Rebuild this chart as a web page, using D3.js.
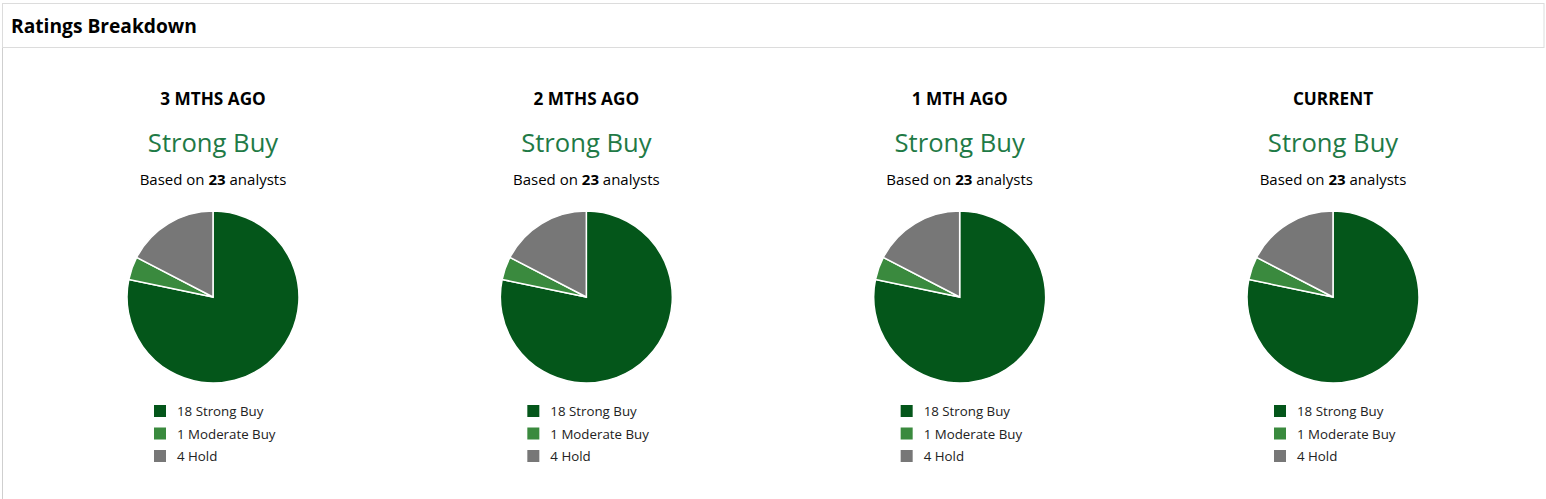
<!DOCTYPE html>
<html>
<head>
  <meta charset="utf-8">
  <title>Ratings Breakdown</title>
  <script src="https://d3js.org/d3.v7.min.js"></script>
<style type="text/css">
body {
  margin: 0;
  background: #fff;
  font-family: "Open Sans", "Noto Sans", sans-serif;
  color: #111;
}
.slice path {
  stroke: #fff;
  stroke-width: 1.5;
}
</style>
</head>
<body>
<svg id="chart" width="1546" height="499"></svg>

<script type="text/javascript">

// periods shown, left to right
let periods = ['3 MTHS AGO', '2 MTHS AGO', '1 MTH AGO', 'CURRENT'];
let consensus = ['Strong Buy', 'Strong Buy', 'Strong Buy', 'Strong Buy'];
let ratingLabels = ['Strong Buy', 'Moderate Buy', 'Hold'];
let ratingColors = ['#04561a', '#3a8a3e', '#777777'];

// analyst counts per period: [strong buy, moderate buy, hold]
let strongBuy = [18, 18, 18, 18];
let moderateBuy = [1, 1, 1, 1];
let hold = [4, 4, 4, 4];

let width = 1546, height = 499;
let svg = d3.select('#chart');

// panel frame
svg.append('line')
  .attr('x1', 2.5).attr('y1', 3.5).attr('x2', 2.5).attr('y2', height)
  .attr('stroke', '#cfcfcf');
svg.append('rect')
  .attr('x', 2.5).attr('y', 3.5).attr('width', 1541.5).attr('height', 44)
  .attr('fill', 'none').attr('stroke', '#dcdcdc');

svg.append('text')
  .attr('x', 11).attr('y', 33)
  .style('font-size', '19.2px').style('font-weight', 700)
  .text('Ratings Breakdown');

let x = d3.scalePoint()
  .domain(periods)
  .range([213, 1333]);

let color = d3.scaleOrdinal()
  .domain(ratingLabels)
  .range(ratingColors);

let pie = d3.pie().sort(null).value(d => d.count);
let arc = d3.arc().innerRadius(0).outerRadius(86);

periods.forEach(function(p, i) {
  let counts = [strongBuy[i], moderateBuy[i], hold[i]];
  let rows = ratingLabels.map((r, k) => ({ label: r, count: counts[k] }));
  let total = d3.sum(counts);

  let g = svg.append('g').attr('transform', 'translate(' + x(p) + ',0)');

  g.append('text')
    .attr('y', 105).attr('text-anchor', 'middle')
    .style('font-size', '17.2px').style('font-weight', 700)
    .text(p);

  g.append('text')
    .attr('y', 152).attr('text-anchor', 'middle')
    .style('font-size', '25.6px').attr('fill', '#1f7a46')
    .text(consensus[i]);

  let based = g.append('text')
    .attr('y', 185).attr('text-anchor', 'middle')
    .style('font-size', '15px');
  based.append('tspan').text('Based on ');
  based.append('tspan').style('font-weight', 700).text(total);
  based.append('tspan').text(' analysts');

  g.append('g')
    .attr('class', 'slice')
    .attr('transform', 'translate(0,297)')
    .selectAll('path')
    .data(pie(rows))
    .enter()
    .append('path')
    .attr('d', arc)
    .attr('fill', d => color(d.data.label));

  let legend = g.selectAll('.legend')
    .data(rows)
    .enter()
    .append('g')
    .attr('class', 'legend')
    .attr('transform', (d, k) => 'translate(-59,' + (405 + k * 22.5) + ')');

  legend.append('rect')
    .attr('width', 12).attr('height', 12)
    .attr('fill', d => color(d.label));

  legend.append('text')
    .attr('x', 23).attr('y', 11)
    .style('font-size', '13.3px').attr('fill', '#222')
    .text(d => d.count + ' ' + d.label);
});

</script>
</body>
</html>
